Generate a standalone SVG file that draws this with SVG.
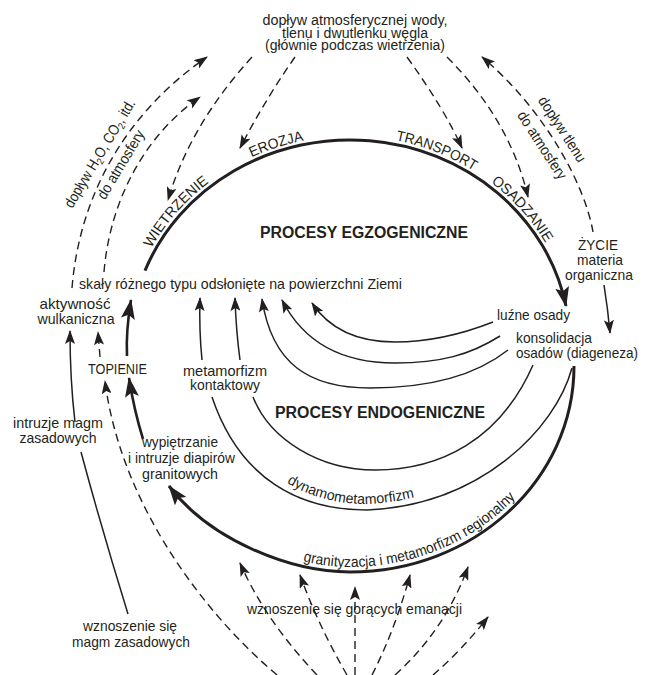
<svg xmlns="http://www.w3.org/2000/svg" width="650" height="675" viewBox="0 0 650 675">
<defs>
<style>
.t{font-family:"Liberation Sans",Arial,sans-serif;font-size:15px;fill:#231f20}
.b{font-weight:bold;font-size:16px}
.c{font-size:14.5px}
.thin{fill:none;stroke:#231f20;stroke-width:1.5}
.thick{fill:none;stroke:#231f20;stroke-width:3}
.dash{fill:none;stroke:#231f20;stroke-width:1.4;stroke-dasharray:8 5}
</style>
<marker id="ah" viewBox="0 0 14 10" refX="13" refY="5" markerWidth="14" markerHeight="10" markerUnits="userSpaceOnUse" orient="auto"><path d="M0,0 L14,5 L0,10 L3,5 z" fill="#231f20"/></marker>
<marker id="ahb" viewBox="0 0 20 14" refX="19" refY="7" markerWidth="20" markerHeight="14" markerUnits="userSpaceOnUse" orient="auto"><path d="M0,0 L20,7 L0,14 L4,7 z" fill="#231f20"/></marker>
<path id="upl" d="M 126 345 A 224 209 0 0 1 574 345"/>
<path id="lowl" d="M 175 484 C 214 535, 292 567, 350 567 C 470 567, 569 478, 569 366"/>
<path id="dynl" d="M 219 394 C 247 472, 304 504, 367 504 C 476 499, 548 428, 566 368"/>
</defs>

<g id="connectors">
<path class="thick" d="M 145 270.6 A 220 205 0 0 1 566 306" marker-end="url(#ahb)"/>
<path class="thick" d="M 574 366 C 574 480, 474 572, 350 572 C 290 572, 210 540, 169 486" marker-end="url(#ahb)"/>
<path class="thick" d="M 127 356 C 126 335, 128 318, 131 300" marker-end="url(#ahb)" style="stroke-width:2.6"/>
<path class="thick" d="M 143 439 Q 134 410 129 378" marker-end="url(#ahb)" style="stroke-width:2.6"/>
<path class="thin" d="M 493 322 C 460 335, 430 342, 395 342 C 360 342, 330 330, 312 303" marker-end="url(#ah)"/>
<path class="thin" d="M 500 336 C 470 355, 440 363, 395 363 C 345 363, 305 345, 282 300" marker-end="url(#ah)"/>
<path class="thin" d="M 508 350 C 470 380, 420 388, 370 388 C 310 388, 272 365, 262 299" marker-end="url(#ah)"/>
<path class="thin" d="M 533 365 C 500 440, 440 470, 375 470 C 320 470, 270 440, 253 397"/>
<path class="thin" d="M 240 360 Q 236 330 235 298" marker-end="url(#ah)"/>
<path class="thin" d="M 572 368 C 555 430, 480 505, 367 510 C 300 510, 240 480, 212 397"/>
<path class="thin" d="M 202 360 Q 199 330 200 298" marker-end="url(#ah)"/>
<path class="thin" d="M 604 285 Q 608 310 610 333" marker-end="url(#ah)"/>
<path class="thin" d="M 75 422 Q 70 380 70 331" marker-end="url(#ah)"/>
<path class="thin" d="M 128 614 Q 102 530 81 452"/>
<path class="dash" d="M 72 288 C 80 190, 130 110, 207 57" marker-end="url(#ah)"/>
<path class="dash" d="M 104 272 C 110 200, 145 135, 200 97" marker-end="url(#ah)"/>
<path class="dash" d="M 252 57 Q 190 125 168 200" marker-end="url(#ah)"/>
<path class="dash" d="M 295 57 Q 265 100 240 148" marker-end="url(#ah)"/>
<path class="dash" d="M 407 57 Q 445 110 462 148" marker-end="url(#ah)"/>
<path class="dash" d="M 447 57 Q 510 120 528 197" marker-end="url(#ah)"/>
<path class="dash" d="M 593 232 C 585 185, 545 110, 482 57" marker-end="url(#ah)"/>
<path class="dash" d="M 100 357 L 98 332" marker-end="url(#ah)"/>
<path class="dash" d="M 277 675 C 200 610, 120 500, 105 381" marker-end="url(#ah)"/>
<path class="dash" d="M 317 675 Q 265 620 240 563" marker-end="url(#ah)"/>
<path class="dash" d="M 347 675 Q 318 625 300 575" marker-end="url(#ah)"/>
<path class="dash" d="M 355 675 L 355 587" marker-end="url(#ah)"/>
<path class="dash" d="M 372 675 Q 395 630 410 575" marker-end="url(#ah)"/>
<path class="dash" d="M 395 675 Q 445 630 468 567" marker-end="url(#ah)"/>
<path class="dash" d="M 433 675 Q 462 650 488 617" marker-end="url(#ah)"/>
</g>

<g id="atmosphere-input" class="t" style="font-size:14px">
<text x="355" y="25" text-anchor="middle" textLength="185" lengthAdjust="spacingAndGlyphs">dopływ atmosferycznej wody,</text>
<text x="355" y="37.5" text-anchor="middle" textLength="146" lengthAdjust="spacingAndGlyphs">tlenu i dwutlenku węgla</text>
<text x="355" y="50" text-anchor="middle" textLength="180" lengthAdjust="spacingAndGlyphs">(głównie podczas wietrzenia)</text>
</g>

<g id="atmosphere-output-left" class="t">
<text transform="translate(104,156) rotate(-59) scale(0.86,1)" text-anchor="middle">dopływ H<tspan font-size="10" dy="3">2</tspan><tspan dy="-3">O, CO</tspan><tspan font-size="10" dy="3">2</tspan><tspan dy="-3">, itd.</tspan></text>
<text transform="translate(125,167) rotate(-59) scale(0.9,1)" text-anchor="middle">do atmosfery</text>
</g>

<g id="oxygen-output" class="t">
<text transform="translate(558,132) rotate(57) scale(0.9,1)" text-anchor="middle">dopływ tlenu</text>
<text transform="translate(538,148) rotate(57) scale(0.9,1)" text-anchor="middle">do atmosfery</text>
</g>

<g id="exogenic-labels" class="t c">
<text><textPath href="#upl" startOffset="145" text-anchor="middle" textLength="88" lengthAdjust="spacingAndGlyphs">WIETRZENIE</textPath></text>
<text><textPath href="#upl" startOffset="266" text-anchor="middle" textLength="55" lengthAdjust="spacingAndGlyphs">EROZJA</textPath></text>
<text><textPath href="#upl" startOffset="428" text-anchor="middle" textLength="84" lengthAdjust="spacingAndGlyphs">TRANSPORT</textPath></text>
<text><textPath href="#upl" startOffset="532" text-anchor="middle" textLength="82" lengthAdjust="spacingAndGlyphs">OSADZANIE</textPath></text>
</g>

<g id="exogenic-title" class="t b">
<text x="260" y="238" textLength="208" lengthAdjust="spacingAndGlyphs">PROCESY EGZOGENICZNE</text>
</g>
<g id="endogenic-title" class="t b">
<text x="275" y="418" textLength="210" lengthAdjust="spacingAndGlyphs">PROCESY ENDOGENICZNE</text>
</g>

<g id="rocks" class="t">
<text x="79" y="289" textLength="323" lengthAdjust="spacingAndGlyphs">skały różnego typu odsłonięte na powierzchni Ziemi</text>
</g>

<g id="volcanism" class="t">
<text x="75" y="309" text-anchor="middle" textLength="71" lengthAdjust="spacingAndGlyphs">aktywność</text>
<text x="76" y="324" text-anchor="middle" textLength="77" lengthAdjust="spacingAndGlyphs">wulkaniczna</text>
</g>

<g id="melting" class="t">
<text x="88" y="374" textLength="59" lengthAdjust="spacingAndGlyphs">TOPIENIE</text>
</g>

<g id="basic-intrusions" class="t">
<text x="58" y="428" text-anchor="middle" textLength="90" lengthAdjust="spacingAndGlyphs">intruzje magm</text>
<text x="58" y="443" text-anchor="middle" textLength="77" lengthAdjust="spacingAndGlyphs">zasadowych</text>
</g>

<g id="uplift" class="t">
<text x="180" y="447" text-anchor="middle" textLength="76" lengthAdjust="spacingAndGlyphs">wypiętrzanie</text>
<text x="181.5" y="463" text-anchor="middle" textLength="107" lengthAdjust="spacingAndGlyphs">i intruzje diapirów</text>
<text x="180" y="479" text-anchor="middle" textLength="76" lengthAdjust="spacingAndGlyphs">granitowych</text>
</g>

<g id="contact-metamorphism" class="t">
<text x="225" y="376" text-anchor="middle" textLength="84" lengthAdjust="spacingAndGlyphs">metamorfizm</text>
<text x="225" y="390" text-anchor="middle" textLength="70" lengthAdjust="spacingAndGlyphs">kontaktowy</text>
</g>

<g id="loose-sediments" class="t">
<text x="497" y="320" textLength="73" lengthAdjust="spacingAndGlyphs">luźne osady</text>
</g>

<g id="diagenesis" class="t">
<text x="516" y="343" textLength="76" lengthAdjust="spacingAndGlyphs">konsolidacja</text>
<text x="516" y="358" textLength="122" lengthAdjust="spacingAndGlyphs">osadów (diageneza)</text>
</g>

<g id="life" class="t">
<text x="598" y="250" text-anchor="middle" textLength="40" lengthAdjust="spacingAndGlyphs">ŻYCIE</text>
<text x="600" y="265" text-anchor="middle" textLength="46" lengthAdjust="spacingAndGlyphs">materia</text>
<text x="599" y="280" text-anchor="middle" textLength="68" lengthAdjust="spacingAndGlyphs">organiczna</text>
</g>

<g id="dynamometamorphism" class="t c">
<text><textPath href="#dynl" startOffset="180" text-anchor="middle" textLength="132" lengthAdjust="spacingAndGlyphs">dynamometamorfizm</textPath></text>
</g>

<g id="granitization" class="t">
<text><textPath href="#lowl" startOffset="268" text-anchor="middle" textLength="232" lengthAdjust="spacingAndGlyphs">granityzacja i metamorfizm regionalny</textPath></text>
</g>

<g id="hot-emanations" class="t">
<text x="354.5" y="614" text-anchor="middle" textLength="215" lengthAdjust="spacingAndGlyphs">wznoszenie się gorących emanacji</text>
</g>

<g id="basic-magma-rise" class="t">
<text x="130" y="631" text-anchor="middle" textLength="94" lengthAdjust="spacingAndGlyphs">wznoszenie się</text>
<text x="131" y="647" text-anchor="middle" textLength="118" lengthAdjust="spacingAndGlyphs">magm zasadowych</text>
</g>
</svg>
